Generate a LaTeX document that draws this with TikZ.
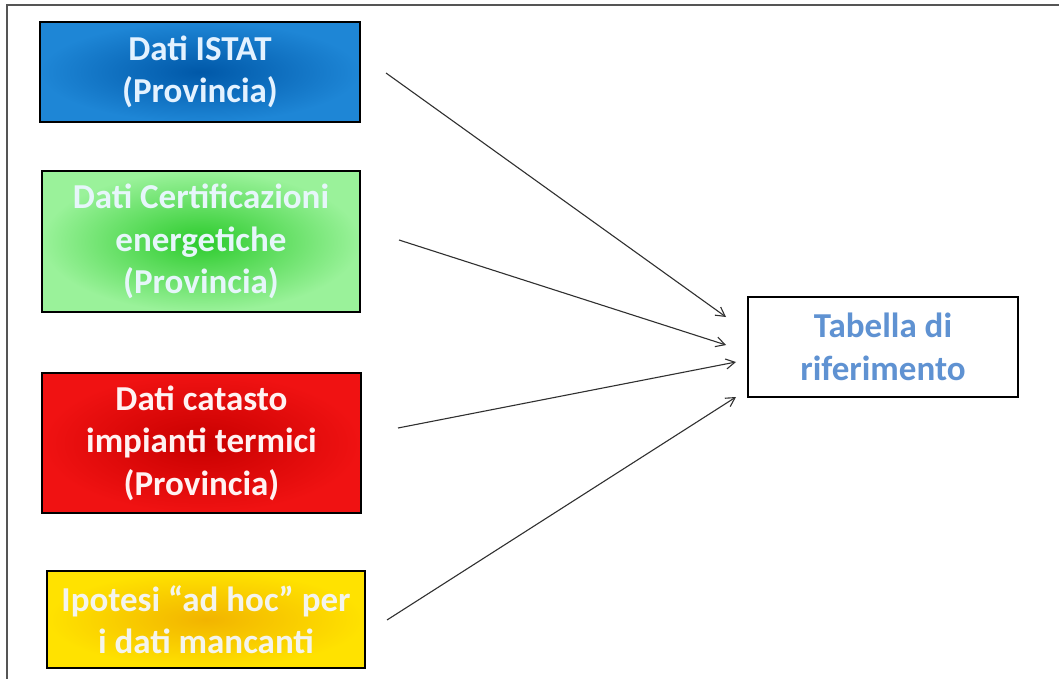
\documentclass[tikz,border=0pt]{standalone}
\usepackage{fontspec}
\setmainfont{Carlito}
\usetikzlibrary{arrows.meta}
\definecolor{blueIn}{HTML}{0058A8}
\definecolor{blueOut}{HTML}{1E86D6}
\definecolor{blueTxt}{HTML}{E4F2FF}
\definecolor{greenIn}{HTML}{2CCB2C}
\definecolor{greenOut}{HTML}{9AF29A}
\definecolor{greenTxt}{HTML}{E6F6FA}
\definecolor{redIn}{HTML}{C80000}
\definecolor{redOut}{HTML}{F01212}
\definecolor{redTxt}{HTML}{FFF2F2}
\definecolor{yelIn}{HTML}{F2B400}
\definecolor{yelOut}{HTML}{FFE200}
\definecolor{yelTxt}{HTML}{F4F4EC}
\definecolor{tabTxt}{HTML}{5F92D2}
\definecolor{frameGray}{HTML}{555555}
\definecolor{arrowGray}{HTML}{303030}
\tikzset{
  srcbox/.style={draw=black, line width=2.2pt, rectangle, shading=radial, align=center,
    font=\fontsize{35}{42.5}\selectfont\bfseries, inner sep=0pt},
  tabbox/.style={draw=black, line width=2.4pt, rectangle, fill=white, align=center,
    font=\fontsize{35}{43}\selectfont\bfseries, inner sep=0pt, text=tabTxt,
    minimum width=270pt, minimum height=100pt},
  conn/.style={draw=arrowGray, line width=1.1pt, -{Straight Barb[length=9pt,width=10pt]}}
}
\begin{document}
\begin{tikzpicture}[x=1pt,y=-1pt]
\useasboundingbox (0,0) rectangle (1059,679);
\fill[white] (0,0) rectangle (1059,679);
\draw[frameGray, line width=2pt] (7,679) -- (7,5) -- (1059,5);

\node[srcbox, inner color=blueIn, outer color=blueOut, text=blueTxt,
  minimum width=320pt, minimum height=100pt] (istat) at (200,72)
  {Dati ISTAT\\(Provincia)};
\node[srcbox, inner color=greenIn, outer color=greenOut, text=greenTxt,
  minimum width=318pt, minimum height=141pt] (cert) at (201,241.5)
  {Dati Certificazioni\\energetiche\\(Provincia)};
\node[srcbox, inner color=redIn, outer color=redOut, text=redTxt,
  minimum width=319pt, minimum height=140pt] (catasto) at (201.5,443)
  {Dati catasto\\impianti termici\\(Provincia)};
\node[srcbox, inner color=yelIn, outer color=yelOut, text=yelTxt,
  minimum width=318pt, minimum height=97pt] (ipotesi) at (206,619.5)
  {Ipotesi ``ad hoc'' per\\i dati mancanti};
\node[tabbox] (tab) at (883,347) {Tabella di\\riferimento};

\coordinate (s1) at (386,73);
\coordinate (t1) at (726,317);
\coordinate (s2) at (399,240);
\coordinate (t2) at (726,345);
\coordinate (s3) at (398,428);
\coordinate (t3) at (736,362);
\coordinate (s4) at (387,620);
\coordinate (t4) at (736,397);
\draw[conn] (s1) -- (t1);
\draw[conn] (s2) -- (t2);
\draw[conn] (s3) -- (t3);
\draw[conn] (s4) -- (t4);
\end{tikzpicture}
\end{document}
